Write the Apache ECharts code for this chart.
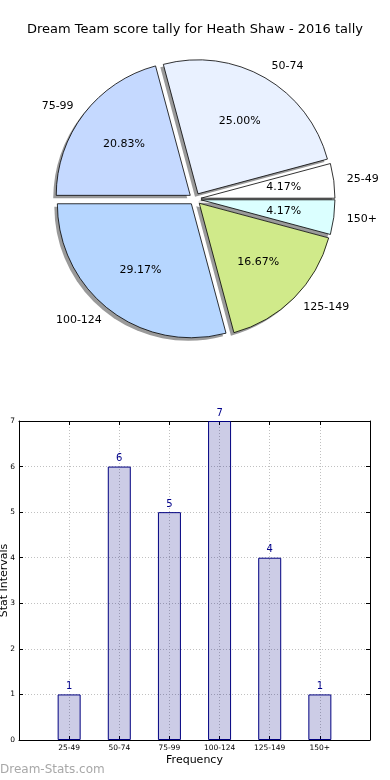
<!DOCTYPE html>
<html>
<head>
<meta charset="utf-8">
<script src="https://cdn.jsdelivr.net/npm/echarts@6/dist/echarts.min.js"></script>
<style>
html,body{margin:0;padding:0;background:#fff;}
#c{width:390px;height:780px;}
</style>
</head>
<body>
<div id="c"></div>
<script>
var titleText = 'Dream Team score tally for Heath Shaw - 2016 tally';
var categories = ['25-49', '50-74', '75-99', '100-124', '125-149', '150+'];
var counts = [1, 6, 5, 7, 4, 1];
var sliceColors = ['#ffffff', '#e9f1ff', '#c5d9ff', '#b6d6ff', '#d0ea8a', '#dbffff'];
var yTicks = [0, 1, 2, 3, 4, 5, 6, 7];

var FONT = 'DejaVu Sans';
var total = counts.reduce(function (a, b) { return a + b; }, 0);

var pieData = categories.map(function (c, i) {
  return { name: c, value: counts[i], selected: true, itemStyle: { color: sliceColors[i] } };
});
var pieDataPlain = categories.map(function (c, i) {
  return { name: c, value: counts[i], selected: true };
});
var barData = counts.map(function (v, i) { return [i, v]; });

var PIE_CENTER = [195, 199];
var SHADOW_CENTER = [192, 202];
var R = 134;

var chart = echarts.init(document.getElementById('c'), null, { renderer: 'canvas' });
chart.setOption({
  animation: false,
  backgroundColor: '#ffffff',
  title: [
    { text: titleText, left: 'center', top: 23, padding: 0,
      textStyle: { fontFamily: FONT, fontSize: 13, fontWeight: 'normal', color: '#000' } },
    { text: 'Dream-Stats.com', left: 0, top: 764, padding: 0,
      textStyle: { fontFamily: FONT, fontSize: 12, fontWeight: 'normal', color: '#a8a8a8' } }
  ],
  grid: { left: 19, right: 20, top: 421, bottom: 40, containLabel: false, outerBoundsMode: 'none' },
  xAxis: [
    { type: 'value', min: -1, max: 6, interval: 1,
      name: 'Frequency', nameLocation: 'middle', nameGap: 15, nameMoveOverlap: false,
      nameTextStyle: { fontFamily: FONT, fontSize: 11, color: '#000' },
      axisLine: { show: true, onZero: false, lineStyle: { color: '#000', width: 1 } },
      axisTick: { show: true, inside: true, length: 4, lineStyle: { color: '#000' } },
      axisLabel: { fontFamily: FONT, fontSize: 7.5, color: '#000', margin: 4,
        formatter: function (v) { return categories[v] !== undefined ? categories[v] : ''; } },
      splitLine: { show: true, lineStyle: { color: '#c0c0c0', type: [1, 2], width: 1 } } },
    { type: 'value', position: 'top', min: -1, max: 6, interval: 1,
      axisLine: { show: true, onZero: false, lineStyle: { color: '#000', width: 1 } },
      axisTick: { show: true, inside: true, length: 4, lineStyle: { color: '#000' } },
      axisLabel: { show: false }, splitLine: { show: false } }
  ],
  yAxis: [
    { type: 'value', min: yTicks[0], max: yTicks[yTicks.length - 1], interval: 1,
      name: 'Stat Intervals', nameLocation: 'middle', nameGap: 9, nameRotate: 90, nameMoveOverlap: false,
      nameTextStyle: { fontFamily: FONT, fontSize: 11, color: '#000' },
      axisLine: { show: true, onZero: false, lineStyle: { color: '#000', width: 1 } },
      axisTick: { show: true, inside: true, length: 4, lineStyle: { color: '#000' } },
      axisLabel: { fontFamily: FONT, fontSize: 7.5, color: '#000', margin: 4 },
      splitLine: { show: true, lineStyle: { color: '#c0c0c0', type: [1, 2], width: 1 } } },
    { type: 'value', position: 'right', min: yTicks[0], max: yTicks[yTicks.length - 1], interval: 1,
      axisLine: { show: true, onZero: false, lineStyle: { color: '#000', width: 1 } },
      axisTick: { show: true, inside: true, length: 4, lineStyle: { color: '#000' } },
      axisLabel: { show: false }, splitLine: { show: false } }
  ],
  series: [
    {
      type: 'pie', center: SHADOW_CENTER, radius: [0, R],
      startAngle: 0, clockwise: false, silent: true,
      selectedMode: 'multiple', selectedOffset: 6,
      avoidLabelOverlap: false,
      itemStyle: { color: '#9a9a9a', borderWidth: 0 },
      label: { show: false }, labelLine: { show: false },
      emphasis: { disabled: true },
      data: pieDataPlain
    },
    {
      type: 'pie', center: PIE_CENTER, radius: [0, R],
      startAngle: 0, clockwise: false, silent: true,
      selectedMode: 'multiple', selectedOffset: 6,
      avoidLabelOverlap: false,
      itemStyle: { borderColor: '#000', borderWidth: 0.8 },
      label: { show: true, position: 'outside', fontFamily: FONT, fontSize: 11, color: '#000',
        distanceToLabelLine: 0, formatter: '{b}' },
      labelLine: { show: false, length: 13, length2: 0 },
      emphasis: { disabled: true },
      data: pieData
    },
    {
      type: 'pie', center: PIE_CENTER, radius: [Math.round(R * 0.2), R],
      startAngle: 0, clockwise: false, silent: true,
      selectedMode: 'multiple', selectedOffset: 6,
      avoidLabelOverlap: false,
      itemStyle: { color: 'rgba(0,0,0,0)', borderWidth: 0 },
      label: { show: true, position: 'inside', fontFamily: FONT, fontSize: 11, color: '#000',
        formatter: function (p) { return (p.value / total * 100).toFixed(2) + '%'; } },
      labelLine: { show: false },
      emphasis: { disabled: true },
      data: pieDataPlain
    },
    {
      type: 'bar', xAxisIndex: 0, yAxisIndex: 0, barWidth: 23,
      itemStyle: { color: 'rgba(0,0,128,0.2)', borderColor: '#000080', borderWidth: 1 },
      label: { show: true, position: 'top', distance: 3, fontFamily: FONT, fontSize: 10, color: '#00008b' },
      emphasis: { disabled: true },
      data: barData
    }
  ]
});
</script>
</body>
</html>
